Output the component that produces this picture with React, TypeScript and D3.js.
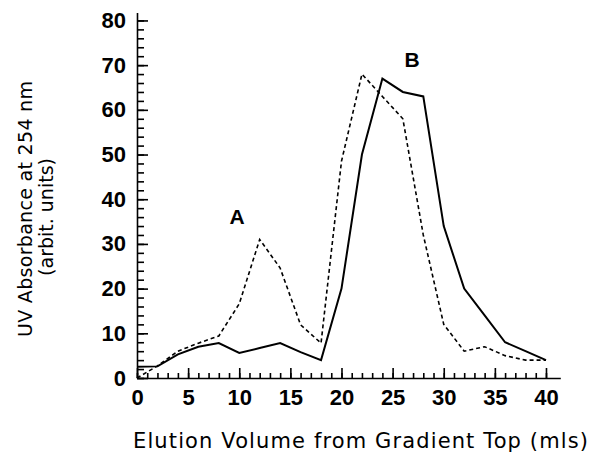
import React, { useRef, useEffect } from 'react'
import * as d3 from 'd3'

// elution volume (mls) and absorbance readings
const volume = [0, 2, 4, 6, 8, 10, 12, 14, 16, 18, 20, 22, 24, 26, 28, 30, 32, 34, 36, 38, 40]
const solidSeries = [2.5, 2.6, 5.3, 7, 7.8, 5.6, 6.7, 7.8, 5.8, 4, 20, 50, 67, 64, 63, 34, 20, 14, 8, 6, 4]
const dashedSeries = [0, 2.7, 6, 7.8, 9.4, 16.6, 31, 24.6, 11.9, 7.8, 48.5, 68, 63, 58, 32, 12, 6, 7, 5, 4, 4]
const xTicks = [0, 5, 10, 15, 20, 25, 30, 35, 40]
const yTicks = [0, 10, 20, 30, 40, 50, 60, 70, 80]
const peakLabels = [
  { label: 'A', x: 9.8, y: 34.5 },
  { label: 'B', x: 26.9, y: 69.5 },
]

const width = 593
const height = 458

export default function App() {
  const visEl = useRef<SVGSVGElement>(null)

  useEffect(() => {
    const svg = d3.select(visEl.current)
    svg.selectAll('*').remove()

    const x = d3.scaleLinear().domain([0, 41.4]).range([137, 560.3])
    const y = d3.scaleLinear().domain([0, 81.8]).range([378, 12.4])

    const tickFont = '"Liberation Sans", Arial, sans-serif'
    const titleFont = '"DejaVu Sans", Verdana, sans-serif'

    // minor ticks first, majors on top
    const yMinor = svg.append('g').attr('transform', `translate(${x(0)},0)`)
      .call(d3.axisLeft(y).tickValues(d3.range(0, 81, 2)).tickSize(-7).tickSizeOuter(0).tickFormat(() => ''))
    yMinor.select('.domain').remove()

    const yAxisG = svg.append('g').attr('transform', `translate(${x(0)},0)`)
      .call(d3.axisLeft(y).tickValues(yTicks).tickSize(-11).tickSizeOuter(0).tickPadding(11))
    yAxisG.selectAll('text')
      .attr('font-family', tickFont).attr('font-weight', 'bold').attr('font-size', 22).attr('fill', '#000')

    const xMinor = svg.append('g').attr('transform', `translate(0,${y(0)})`)
      .call(d3.axisBottom(x).tickValues(d3.range(0, 41, 1)).tickSize(-5).tickSizeOuter(0).tickFormat(() => ''))
    xMinor.select('.domain').remove()

    const xAxisG = svg.append('g').attr('transform', `translate(0,${y(0)})`)
      .call(d3.axisBottom(x).tickValues(xTicks).tickSize(-10).tickSizeOuter(0).tickPadding(11))
    xAxisG.selectAll('text')
      .attr('font-family', tickFont).attr('font-weight', 'bold').attr('font-size', 22).attr('fill', '#000')

    svg.selectAll('.domain').attr('stroke', '#000').attr('stroke-width', 1.6)
    svg.selectAll('.tick line').attr('stroke', '#000').attr('stroke-width', 1.6)

    const line = d3.line<number>()
      .x((d, i) => x(volume[i]))
      .y(d => y(d))

    svg.append('path')
      .datum(dashedSeries)
      .attr('d', line)
      .attr('fill', 'none')
      .attr('stroke', '#000')
      .attr('stroke-width', 1.6)
      .attr('stroke-dasharray', '4,3')

    svg.append('path')
      .datum(solidSeries)
      .attr('d', line)
      .attr('fill', 'none')
      .attr('stroke', '#000')
      .attr('stroke-width', 2)

    svg.selectAll('.peak').data(peakLabels).enter().append('text')
      .attr('class', 'peak')
      .attr('x', d => x(d.x))
      .attr('y', d => y(d.y))
      .attr('text-anchor', 'middle')
      .attr('font-family', tickFont)
      .attr('font-weight', 'bold')
      .attr('font-size', 21)
      .text(d => d.label)

    svg.append('text')
      .attr('x', 133)
      .attr('y', 448)
      .attr('font-family', titleFont)
      .attr('font-size', 21)
      .attr('textLength', 455)
      .attr('lengthAdjust', 'spacing')
      .text('Elution Volume from Gradient Top (mls)')

    svg.append('text')
      .attr('transform', 'translate(32,209) rotate(-90)')
      .attr('text-anchor', 'middle')
      .attr('font-family', titleFont)
      .attr('font-size', 19)
      .attr('textLength', 256)
      .attr('lengthAdjust', 'spacing')
      .text('UV Absorbance at 254 nm')

    svg.append('text')
      .attr('transform', 'translate(53,217) rotate(-90)')
      .attr('text-anchor', 'middle')
      .attr('font-family', titleFont)
      .attr('font-size', 19)
      .text('(arbit. units)')
  }, [])

  return (
    <svg ref={visEl} width={width} height={height}
      style={{ position: 'absolute', left: 0, top: 0, background: '#fff' }} />
  )
}
